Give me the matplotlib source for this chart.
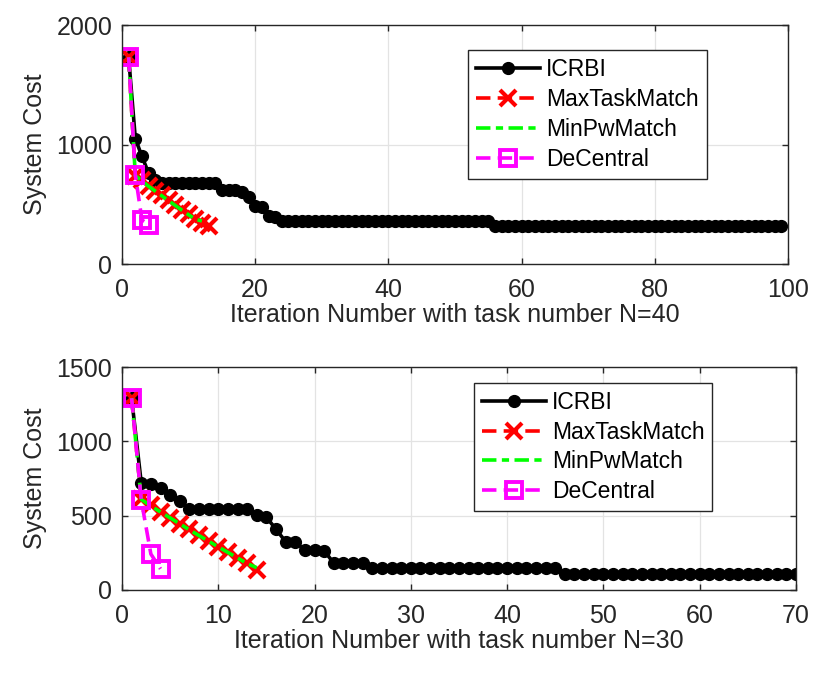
import matplotlib
matplotlib.use('Agg')
from matplotlib import pyplot as plt

plt.rcParams['font.family'] = ['Liberation Sans', 'DejaVu Sans']

labels = ['ICRBI', 'MaxTaskMatch', 'MinPwMatch', 'DeCentral']

# N=40 (top panel)
icrbi_40 = [1730, 1050, 900, 760, 700, 675, 675, 675, 675, 675,
            675, 675, 675, 675, 620, 620, 620, 600, 560, 485,
            480, 405, 395, 358, 358, 358, 358, 358, 358, 358,
            358, 358, 358, 358, 358, 358, 358, 358, 358, 358,
            358, 358, 358, 358, 358, 358, 358, 358, 358, 358,
            358, 358, 358, 358, 358, 318, 318, 318, 318, 318,
            318, 318, 318, 318, 318, 318, 318, 318, 318, 318,
            318, 318, 318, 318, 318, 318, 318, 318, 318, 318,
            318, 318, 318, 318, 318, 318, 318, 318, 318, 318,
            318, 318, 318, 318, 318, 318, 318, 318, 318]
maxtask_40 = [1730, 740, 700, 655, 615, 575, 535, 495, 455, 415, 380, 345, 318]
minpw_40 = [1730, 740, 695, 650, 610, 570, 530, 490, 450, 412, 375, 360]
decentral_40 = [1730, 745, 368, 330]

# N=30 (bottom panel)
icrbi_30 = [1290, 720, 715, 685, 640, 596, 548, 548, 548, 548,
            548, 548, 548, 505, 490, 408, 325, 322, 268, 268,
            265, 180, 180, 180, 180, 150, 150, 150, 150, 150,
            150, 150, 150, 150, 150, 150, 150, 150, 150, 150,
            150, 150, 150, 150, 150, 110, 110, 110, 110, 110,
            110, 110, 110, 110, 110, 110, 110, 110, 110, 110,
            110, 110, 110, 110, 110, 110, 110, 110, 110, 110]
maxtask_30 = [1290, 610, 570, 528, 487, 447, 407, 368, 330, 292, 255, 218, 180, 135]
minpw_30 = [1290, 610, 565, 525, 485, 445, 405, 366, 328, 290, 253, 215, 178, 150]
decentral_30 = [1290, 605, 242, 142]

panels = [
    dict(series=[icrbi_40, maxtask_40, minpw_40, decentral_40], xmax=100, xstep=20,
         ymax=2000, yticks=[0, 1000, 2000], xlabel='Iteration Number with task number N=40',
         rect=[0.1468, 0.6106, 0.8014, 0.3525], leg=(0.5195, 0.8954)),
    dict(series=[icrbi_30, maxtask_30, minpw_30, decentral_30], xmax=70, xstep=10,
         ymax=1500, yticks=[0, 500, 1000, 1500], xlabel='Iteration Number with task number N=30',
         rect=[0.1468, 0.1298, 0.8110, 0.3289], leg=(0.522, 0.9296)),
]

dark = '#262626'
fig = plt.figure(figsize=(8.31, 6.78), dpi=100)

for p in panels:
    ax = fig.add_axes(p['rect'])
    icrbi, maxtask, minpw, decentral = p['series']
    ax.plot(range(1, len(icrbi) + 1), icrbi, color='black', lw=2.6, marker='o', ms=8.5,
            label=labels[0])
    ax.plot(range(1, len(maxtask) + 1), maxtask, color='#ff0000', lw=2.6, ls=(0, (4, 2)),
            marker='x', ms=11, mew=3, label=labels[1])
    ax.plot(range(1, len(minpw) + 1), minpw, color='#00ff00', lw=2.6, ls=(0, (4, 1.5, 2, 1.5)),
            label=labels[2])
    ax.plot(range(1, len(decentral) + 1), decentral, color='#ff00ff', lw=2.6, ls=(0, (4, 2)),
            marker='s', ms=11, mew=2.8, mfc='none', label=labels[3])

    ax.set_xlim(0, p['xmax'])
    ax.set_ylim(0, p['ymax'])
    ax.set_xticks(range(0, p['xmax'] + 1, p['xstep']))
    ax.set_yticks(p['yticks'])
    ax.grid(True, color='#e3e3e3', lw=0.9)
    ax.set_axisbelow(True)
    for s in ax.spines.values():
        s.set_color(dark)
        s.set_linewidth(1.0)
    ax.tick_params(direction='in', top=True, right=True, length=4, width=1,
                   colors=dark, labelsize=18)
    ax.tick_params(axis='x', pad=10)
    ax.tick_params(axis='y', pad=7)
    ax.set_xlabel(p['xlabel'], fontsize=18, color=dark, labelpad=1)
    ax.set_ylabel('System Cost', fontsize=18, color=dark, labelpad=7)

    leg = ax.legend(loc='upper left', bbox_to_anchor=p['leg'], fontsize=16.5,
                    frameon=True, fancybox=False, framealpha=1, edgecolor=dark,
                    borderpad=0.35, labelspacing=0.3, handlelength=2.8,
                    handletextpad=0.25, borderaxespad=0, numpoints=1)
    leg.get_frame().set_linewidth(1.0)

fig.savefig('out.png', dpi=100)
